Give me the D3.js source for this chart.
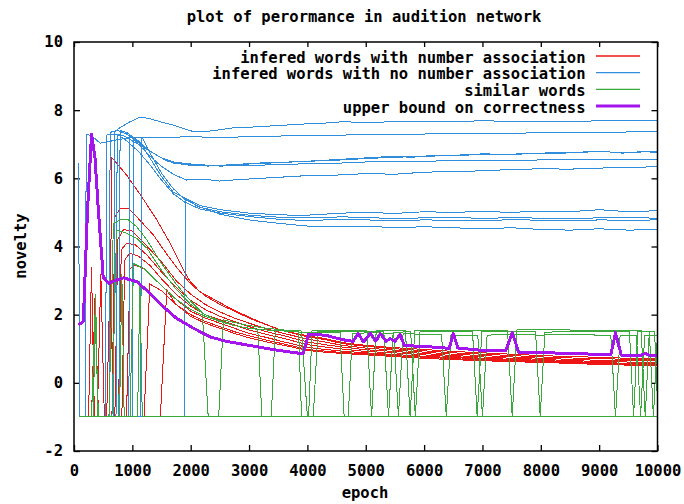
<!DOCTYPE html>
<html>
<head>
<meta charset="utf-8">
<script src="https://d3js.org/d3.v7.min.js"></script>
<style>
    body { margin: 0; background: #fff; }
    text {
        font-family: "DejaVu Sans Mono", monospace;
        font-weight: bold;
        font-size: 15.5px;
        fill: #000;
    }
</style>
</head>
<body>
<script>
// ---- data: [epoch, novelty] ----
const xTicks = [0, 1000, 2000, 3000, 4000, 5000, 6000, 7000, 8000, 9000, 10000];
const yTicks = [-2, 0, 2, 4, 6, 8, 10];
const legendLabels = ["infered words with number association", "infered words with no number association",
    "similar words", "upper bound on correctness"];

// infered words with number association
const red1 = [[80,-1],[600,-1],[650,6.6],[900,6.1],[1160,5.46],[1420,4.78],[1650,4.09],[1875,3.31],[2000,2.95],[2160,2.67],[2450,2.4],[2730,2.14],[3100,1.85],[3530,1.55],[3800,1.45],[4000,1.38],[4300,1.3],[4600,1.18],[5000,1.1],[5500,1.03],[6000,0.98],[6500,0.92],[7000,0.88],[7500,0.84],[8000,0.8],[8500,0.77],[9000,0.75],[9500,0.72],[10000,0.7]];
const red2 = [[80,-1],[650,-1],[700,4.87],[790,5.12],[930,5.12],[1075,4.87],[1360,4.34],[1600,3.75],[1800,3.3],[2000,2.9],[2250,2.55],[2500,2.3],[2750,2.1],[3000,1.9],[3300,1.7],[3600,1.52],[4000,1.35],[4300,1.27],[4600,1.15],[5000,1.07],[5500,1.0],[6000,0.94],[6500,0.88],[7000,0.84],[7500,0.8],[8000,0.76],[8500,0.73],[9000,0.71],[9500,0.69],[10000,0.68]];
const red3 = [[80,-1],[250,-1],[300,3.4],[350,-1],[700,-1],[750,4.2],[850,4.5],[1000,4.45],[1200,4.1],[1500,3.55],[1750,3.0],[2000,2.6],[2250,2.3],[2500,2.08],[2750,1.9],[3000,1.75],[3300,1.58],[3600,1.45],[4000,1.28],[4300,1.2],[4600,1.1],[5000,1.02],[5500,0.96],[6000,0.9],[6500,0.84],[7000,0.8],[7500,0.76],[8000,0.72],[8500,0.69],[9000,0.66],[9500,0.65],[10000,0.64]];
const red4 = [[80,-1],[400,-1],[460,3.2],[520,-1],[760,-1],[810,3.9],[900,4.1],[1050,4.05],[1250,3.75],[1500,3.25],[1750,2.8],[2000,2.42],[2250,2.15],[2500,1.95],[2750,1.8],[3000,1.65],[3300,1.5],[3600,1.38],[4000,1.2],[4300,1.12],[4600,1.05],[5000,0.97],[5500,0.92],[6000,0.86],[6500,0.8],[7000,0.76],[7500,0.72],[8000,0.69],[8500,0.65],[9000,0.63],[9500,0.61],[10000,0.6]];
const red5 = [[80,-1],[300,-1],[360,2.5],[420,-1],[820,-1],[870,3.6],[950,3.8],[1100,3.72],[1300,3.45],[1500,3.05],[1750,2.6],[2000,2.25],[2250,2.0],[2500,1.85],[2750,1.7],[3000,1.55],[3300,1.42],[3600,1.3],[4000,1.12],[4300,1.05],[4600,0.99],[5000,0.92],[5500,0.88],[6000,0.82],[6500,0.77],[7000,0.72],[7500,0.69],[8000,0.66],[8500,0.62],[9000,0.6],[9500,0.57],[10000,0.56]];
const red6 = [[80,-1],[560,-1],[620,3.2],[680,-1],[900,-1],[960,3.35],[1050,3.45],[1200,3.35],[1500,2.85],[1750,2.45],[2000,2.1],[2250,1.9],[2500,1.75],[2750,1.6],[3000,1.45],[3300,1.33],[3600,1.2],[4000,1.04],[4300,0.98],[4600,0.93],[5000,0.88],[5500,0.83],[6000,0.78],[6500,0.74],[7000,0.7],[7500,0.66],[8000,0.63],[8500,0.6],[9000,0.57],[9500,0.55],[10000,0.53]];
const red7 = [[80,-1],[1200,-1],[1300,2.9],[1500,2.7],[1750,2.3],[2000,2.0],[2250,1.8],[2500,1.65],[2750,1.5],[3000,1.38],[3300,1.25],[3600,1.14],[4000,0.98],[4300,0.93],[4600,0.89],[5000,0.85],[5500,0.8],[6000,0.75],[6500,0.71],[7000,0.67],[7500,0.64],[8000,0.61],[8500,0.58],[9000,0.55],[9500,0.53],[10000,0.51]];
const red8 = [[80,-1],[1480,-1],[1590,2.72],[1750,2.3],[2000,1.95],[2250,1.75],[2500,1.6],[2750,1.45],[3000,1.32],[3300,1.2],[3600,1.1],[4000,0.95],[4300,0.9],[4600,0.86],[5000,0.82],[5500,0.77],[6000,0.72],[6500,0.68],[7000,0.65],[7500,0.62],[8000,0.6],[8500,0.57],[9000,0.54],[9500,0.52],[10000,0.5]];

// infered words with no number association
const blue1 = [[80,-1],[680,-1],[700,7.37],[800,7.5],[950,7.65],[1130,7.8],[1300,7.75],[1500,7.65],[1700,7.56],[1900,7.45],[2050,7.37],[2300,7.38],[2730,7.48],[3000,7.5],[3500,7.55],[4000,7.6],[4300,7.62],[4600,7.66],[5000,7.64],[5500,7.66],[6000,7.68],[6500,7.66],[7000,7.69],[7500,7.67],[8000,7.68],[8500,7.66],[9000,7.69],[9500,7.7],[10000,7.7]];
const blue2 = [[80,-1],[190,-1],[210,7.3],[300,7.25],[450,7.03],[600,7.08],[800,7.15],[1000,7.2],[1200,7.2],[1500,7.2],[2000,7.22],[2500,7.2],[3000,7.22],[3500,7.24],[4000,7.26],[4600,7.27],[5000,7.28],[5500,7.3],[6000,7.3],[6500,7.31],[7000,7.33],[7500,7.32],[8000,7.34],[8500,7.33],[9000,7.35],[9500,7.36],[10000,7.37]];
const blue3 = [[80,-1],[540,-1],[560,7.27],[700,7.3],[850,7.25],[1000,7.1],[1200,6.9],[1400,6.7],[1600,6.5],[1800,6.44],[2000,6.4],[2200,6.39],[2500,6.38],[3000,6.42],[3500,6.46],[4000,6.5],[4600,6.54],[5000,6.58],[5500,6.62],[6000,6.64],[6500,6.68],[7000,6.7],[7500,6.7],[8000,6.74],[8500,6.76],[9000,6.78],[9500,6.76],[10000,6.8]];
const blue4 = [[80,-1],[600,-1],[620,7.35],[750,7.4],[900,7.3],[1100,7.05],[1300,6.8],[1500,6.6],[1700,6.45],[2000,6.38],[2300,6.36],[2700,6.4],[3200,6.45],[3700,6.48],[4200,6.52],[4600,6.56],[5000,6.6],[5400,6.64],[5800,6.62],[6200,6.68],[6600,6.66],[7000,6.72],[7400,6.7],[7800,6.73],[8200,6.72],[8600,6.76],[9000,6.8],[9400,6.74],[9800,6.78],[10000,6.76]];
const blue5 = [[80,-1],[770,-1],[790,7.4],[900,7.35],[1100,7.1],[1300,6.8],[1500,6.6],[1700,6.48],[2000,6.42],[2500,6.36],[3000,6.38],[3500,6.4],[4000,6.43],[4600,6.45],[5000,6.48],[5500,6.5],[6000,6.5],[6500,6.52],[7000,6.53],[7500,6.52],[8000,6.54],[8500,6.55],[9000,6.55],[9500,6.56],[10000,6.56]];
const blue6 = [[80,-1],[940,-1],[960,7.25],[1100,7.0],[1300,6.65],[1500,6.35],[1700,6.12],[1930,5.95],[2200,5.98],[2500,5.92],[2800,5.96],[3200,6.0],[3600,6.04],[4000,6.08],[4600,6.1],[5000,6.14],[5500,6.12],[6000,6.18],[6500,6.2],[7000,6.22],[7500,6.26],[8000,6.28],[8500,6.27],[9000,6.3],[9500,6.32],[10000,6.34]];
const blue7 = [[80,-1],[1000,-1],[1020,7.2],[1150,7.0],[1300,6.6],[1500,6.05],[1700,5.6],[1900,5.42],[2160,5.2],[2500,5.08],[3000,4.98],[3300,4.95],[3700,4.92],[4000,4.92],[4300,4.95],[4600,4.98],[5000,5.0],[5500,4.97],[6000,5.02],[6500,5.0],[7000,5.03],[7500,5.0],[8000,5.04],[8500,5.02],[9000,5.08],[9500,5.02],[10000,5.05]];
const blue8 = [[80,-1],[1140,-1],[1160,7.22],[1300,6.75],[1500,6.15],[1700,5.7],[1900,5.38],[2160,5.15],[2500,5.02],[3000,4.92],[3500,4.86],[4000,4.84],[4600,4.87],[5000,4.85],[5500,4.82],[6000,4.84],[6500,4.86],[7000,4.82],[7500,4.85],[8000,4.83],[8500,4.82],[9000,4.84],[9500,4.85],[10000,4.83]];
const blue9 = [[80,-1],[720,-1],[740,7.3],[900,7.1],[1100,6.8],[1300,6.4],[1500,5.95],[1700,5.55],[1900,5.3],[2160,5.1],[2500,4.98],[3000,4.88],[3500,4.8],[4000,4.76],[4600,4.8],[5000,4.78],[5500,4.76],[6000,4.78],[6500,4.77],[7000,4.75],[7500,4.79],[8000,4.77],[8500,4.75],[9000,4.78],[9500,4.77],[10000,4.78]];
const blue10 = [[80,6.45],[95,-1],[1890,-1],[1910,5.41],[2100,5.2],[2500,4.95],[3000,4.78],[3500,4.68],[4000,4.6],[4600,4.58],[5000,4.6],[5500,4.55],[6000,4.58],[6500,4.55],[7000,4.52],[7500,4.55],[8000,4.5],[8500,4.48],[9000,4.52],[9500,4.48],[10000,4.5]];

// similar words
const green1 = [[80,-1],[600,-1],[675,4.68],[790,4.78],[930,4.78],[1075,4.58],[1250,4.19],[1500,3.5],[1750,2.9],[2000,2.4],[2200,2.05],[2300,-1],[2480,-1],[2560,1.85],[2800,1.75],[3000,1.68],[3300,1.6],[3600,1.55],[3900,1.52],[4000,-1],[4100,-1],[4180,1.5],[4500,1.52],[5000,1.5],[5310,1.5],[5390,-1],[5470,1.48],[5770,1.5],[5850,-1],[5930,1.5],[6300,1.52],[6830,1.5],[6910,-1],[6990,1.5],[7500,1.52],[7910,1.5],[7990,-1],[8070,1.48],[8500,1.52],[9000,1.5],[9520,1.5],[9590,-1],[9660,1.5],[9860,1.5],[9930,-1],[10000,1.45]];
const green2 = [[80,-1],[650,-1],[730,4.48],[900,4.39],[1075,4.24],[1250,3.95],[1500,3.3],[1750,2.75],[2000,2.3],[2250,2.0],[2500,1.82],[2750,1.68],[3000,1.6],[3150,1.57],[3220,-1],[3380,-1],[3450,1.55],[3700,1.5],[4000,1.48],[4300,1.47],[4560,1.47],[4630,-1],[4700,-1],[4770,1.45],[5100,1.47],[5480,1.45],[5560,-1],[5640,1.45],[6000,1.42],[6300,1.42],[6380,-1],[6460,1.4],[6920,1.4],[7000,-1],[7080,1.4],[7500,1.42],[8000,1.4],[8500,1.42],[9000,1.4],[9200,1.4],[9280,-1],[9360,1.4],[9640,1.4],[9710,-1],[9780,1.4],[10000,1.4]];
const green3 = [[80,-1],[300,-1],[360,2.0],[420,-1],[960,-1],[1020,3.5],[1200,3.35],[1500,2.85],[1750,2.45],[2000,2.15],[2250,1.95],[2500,1.8],[2750,1.68],[3000,1.6],[3300,1.55],[3600,1.52],[3850,1.5],[3900,-1],[4020,-1],[4080,1.55],[4500,1.55],[5020,1.55],[5100,-1],[5180,1.55],[5680,1.53],[5760,-1],[5840,1.55],[6500,1.55],[7000,1.55],[7430,1.55],[7510,-1],[7590,1.55],[8000,1.57],[8500,1.55],[9000,1.55],[9500,1.55],[9720,1.55],[9790,-1],[9860,1.5],[9950,1.5],[10000,-0.6]];
const green4 = [[80,-1],[330,-1],[370,2.6],[410,-1],[780,-1],[820,3.2],[860,-1],[1090,-1],[1130,3.0],[1170,-1],[10000,-1]];

// upper bound on correctness
const bound = [[80,1.7],[160,1.8],[230,5.0],[300,7.3],[360,6.6],[420,5.0],[480,3.6],[500,3.1],[600,2.92],[700,3.0],[850,3.08],[1075,2.97],[1300,2.63],[1530,2.23],[1760,1.89],[2050,1.6],[2330,1.35],[2600,1.22],[3000,1.1],[3400,0.98],[3800,0.88],[3930,0.86],[4020,1.42],[4300,1.4],[4620,1.26],[4780,1.22],[4870,1.45],[4960,1.2],[5080,1.45],[5170,1.22],[5250,1.44],[5350,1.22],[5420,1.3],[5500,1.22],[5590,1.42],[5660,1.1],[6000,1.06],[6300,1.04],[6430,1.0],[6500,1.45],[6580,1.02],[7000,0.95],[7400,0.94],[7510,1.47],[7620,0.9],[8000,0.88],[8500,0.87],[9000,0.83],[9200,0.82],[9280,1.47],[9380,0.81],[9700,0.8],[9790,0.86],[9880,0.8],[10000,0.8]];

const redSeries = [red1, red2, red3, red4, red5, red6, red7, red8];
const blueSeries = [blue1, blue2, blue3, blue4, blue5, blue6, blue7, blue8, blue9, blue10];
const greenSeries = [green1, green2, green3, green4];

const colors = ["#ee1515", "#2f8ddc", "#3aa83a", "#a414ec"];

const width = 684, height = 504;
const svg = d3.select("body").append("svg")
    .attr("width", width)
    .attr("height", height);

const x = d3.scaleLinear().domain([0, 10000]).range([74, 657.5]);
const y = d3.scaleLinear().domain([-2, 10]).range([451, 42]);

const line = d3.line().x(d => x(d[0])).y(d => y(d[1]));

// axes, ticks point inward on all four sides
const gBottom = svg.append("g")
    .attr("transform", `translate(0,${y(-2)})`)
    .call(d3.axisBottom(x).tickValues(xTicks).tickSizeInner(-6).tickSizeOuter(0)
        .tickPadding(14).tickFormat(d => String(d)));
const gLeft = svg.append("g")
    .attr("transform", `translate(${x(0)},0)`)
    .call(d3.axisLeft(y).tickValues(yTicks).tickSizeInner(-6).tickSizeOuter(0)
        .tickPadding(11).tickFormat(d => String(d)));
const gTop = svg.append("g")
    .attr("transform", `translate(0,${y(10)})`)
    .call(d3.axisTop(x).tickValues(xTicks).tickSizeInner(-5).tickSizeOuter(0).tickFormat(""));
const gRight = svg.append("g")
    .attr("transform", `translate(${x(10000)},0)`)
    .call(d3.axisRight(y).tickValues(yTicks).tickSizeInner(-6).tickSizeOuter(0).tickFormat(""));

[gBottom, gLeft, gTop, gRight].forEach(g => {
    g.select(".domain").remove();
    g.selectAll(".tick line").attr("stroke", "#000").attr("stroke-width", 1.3);
});

// series, drawn without smoothing like the bitmap original
const plot = svg.append("g").attr("shape-rendering", "crispEdges");
redSeries.forEach(s => plot.append("path").datum(s)
    .attr("d", line).attr("fill", "none").attr("stroke", colors[0]).attr("stroke-width", 1));
blueSeries.forEach(s => plot.append("path").datum(s)
    .attr("d", line).attr("fill", "none").attr("stroke", colors[1]).attr("stroke-width", 1));
greenSeries.forEach(s => plot.append("path").datum(s)
    .attr("d", line).attr("fill", "none").attr("stroke", colors[2]).attr("stroke-width", 1));
plot.append("path").datum(bound)
    .attr("d", line).attr("fill", "none").attr("stroke", colors[3])
    .attr("stroke-width", 3).attr("stroke-linejoin", "round");

// border
svg.append("rect")
    .attr("x", x(0)).attr("y", y(10))
    .attr("width", x(10000) - x(0)).attr("height", y(-2) - y(10))
    .attr("fill", "none").attr("stroke", "#000").attr("stroke-width", 1.5);

// legend
const legendBase = [62.5, 79.2, 95.9, 112.6];
legendLabels.forEach((label, i) => {
    svg.append("text")
        .attr("x", 585.5).attr("y", legendBase[i])
        .attr("text-anchor", "end")
        .text(label);
    svg.append("line")
        .attr("x1", 596).attr("x2", 640)
        .attr("y1", legendBase[i] - 6.5).attr("y2", legendBase[i] - 6.5)
        .attr("stroke", colors[i])
        .attr("stroke-width", i === 3 ? 3 : 1.3);
});

// titles
svg.append("text")
    .attr("x", 364).attr("y", 22)
    .attr("text-anchor", "middle")
    .text("plot of perormance in audition network");
svg.append("text")
    .attr("x", 365).attr("y", 498)
    .attr("text-anchor", "middle")
    .text("epoch");
svg.append("text")
    .attr("transform", "translate(26,246) rotate(-90)")
    .attr("text-anchor", "middle")
    .text("novelty");
</script>
</body>
</html>
